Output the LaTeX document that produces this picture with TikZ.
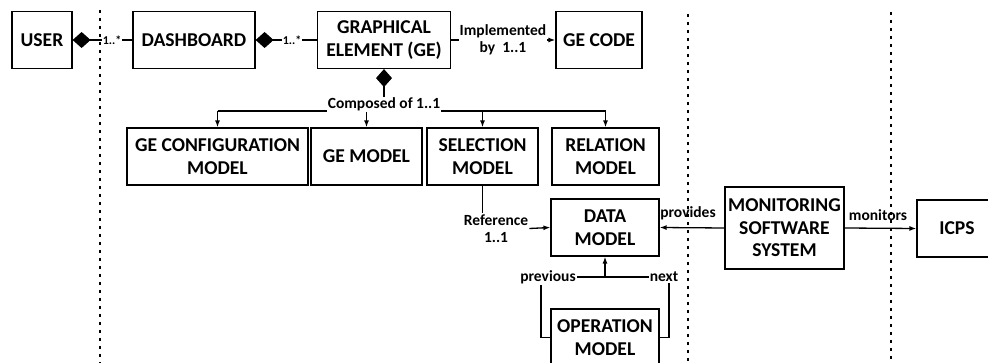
\documentclass[tikz,border=0pt]{standalone}
\usepackage{fontspec}
\setmainfont{Carlito}
\usetikzlibrary{arrows.meta}
\begin{document}
\begin{tikzpicture}[x=1pt,y=-1pt,
  box/.style={draw, line width=1.2pt, minimum height=57pt, align=center, inner sep=0pt,
    font=\bfseries\fontsize{19.6}{22.5}\selectfont},
  lbl/.style={font=\bfseries\fontsize{15.5}{17}\selectfont, align=center, inner sep=1pt},
  mult/.style={font=\bfseries\fontsize{12}{14}\selectfont, fill=white, inner sep=1pt},
  conn/.style={line width=1.3pt},
  arr/.style={conn, -{Latex[length=7pt,width=5pt]}},
  comp/.style={conn, {Diamond[length=18pt,width=16pt]}-},
  sep/.style={line width=2pt, dash pattern=on 3pt off 5pt}]
\useasboundingbox (0,0) rectangle (988,363);
\clip (0,0) rectangle (988,363);
% separators
\coordinate (s1t) at (100,10);  \coordinate (s1b) at (100,363);
\coordinate (s2t) at (688,14);  \coordinate (s2b) at (688,363);
\coordinate (s3t) at (891,12);  \coordinate (s3b) at (891,363);
\draw[sep] (s1t) -- (s1b);
\draw[sep] (s2t) -- (s2b);
\draw[sep] (s3t) -- (s3b);
% boxes
\node[box, minimum width=60pt]  (user)   at (42,40)    {USER};
\node[box, minimum width=122pt] (dash)   at (194,40)   {DASHBOARD};
\node[box, minimum width=133pt] (ge)     at (384,40)   {GRAPHICAL\\ELEMENT (GE)};
\node[box, minimum width=86pt]  (gecode) at (599,40)   {GE CODE};
\node[box, minimum width=181pt] (gecm)   at (217.5,156.5) {GE CONFIGURATION\\MODEL};
\node[box, minimum width=111pt] (gem)    at (366.5,156.5) {GE MODEL};
\node[box, minimum width=111pt] (sel)    at (482.5,156.5) {SELECTION\\MODEL};
\node[box, minimum width=107pt] (rel)    at (605.5,156.5) {RELATION\\MODEL};
\node[box, minimum width=108pt] (data)   at (605,227.5)   {DATA\\MODEL};
\node[box, minimum width=108pt] (op)     at (605,337.5)   {OPERATION\\MODEL};
\node[box, minimum width=119pt, minimum height=82pt] (mss) at (784.5,228) {MONITORING\\SOFTWARE\\SYSTEM};
\node[box, minimum width=80pt]  (icps)   at (957,228.5)   {ICPS};
% aggregation user-dashboard-ge
\draw[comp] (user.east) -- (dash.west);
\node[mult] at (112,40) {1..*};
\draw[comp] (dash.east) -- (ge.west);
\node[mult] at (292,40) {1..*};
% implemented by
\node[lbl] (impl) at (503,40) {Implemented\\by\ \ 1..1};
\draw[conn] (ge.east) -- (impl.west);
\draw[arr] (impl.east) -- (gecode.west);
% composed of
\coordinate (bus) at (ge.south |- 0,111);
\draw[comp] (ge.south) -- (bus);
\draw[conn] (gecm.north |- bus) -- (rel.north |- bus);
\draw[arr] (gecm.north |- bus) -- (gecm.north);
\draw[arr] (gem.north |- bus) -- (gem.north);
\draw[arr] (sel.north |- bus) -- (sel.north);
\draw[arr] (rel.north |- bus) -- (rel.north);
\node[lbl, fill=white, anchor=base, yshift=2pt] (comp) at (bus) {Composed of 1..1};
% reference
\node[lbl] (ref) at (496,228.5) {Reference\\1..1};
\draw[conn] (sel.south) -- (sel.south |- ref.north);
\draw[arr] (ref.east) -- (data.west);
% previous / next
\node[lbl] (prev) at (548,277) {previous};
\node[lbl] (next) at (664,277) {next};
\draw[conn] (prev.east) -- (next.west);
\draw[arr] (data.south |- prev.east) -- (data.south);
\coordinate (pl) at (541,0);
\coordinate (pr) at (669,0);
\draw[conn] (op.west) -- (op.west -| pl) -- (pl |- prev.south);
\draw[conn] (op.east) -- (op.east -| pr) -- (pr |- next.south);
% provides / monitors
\draw[arr] (mss.west) -- (data.east);
\node[lbl] (prov) at (688,213) {provides};
\draw[arr] (mss.east) -- (icps.west);
\node[lbl] (mon) at (878,215) {monitors};
\end{tikzpicture}
\end{document}
